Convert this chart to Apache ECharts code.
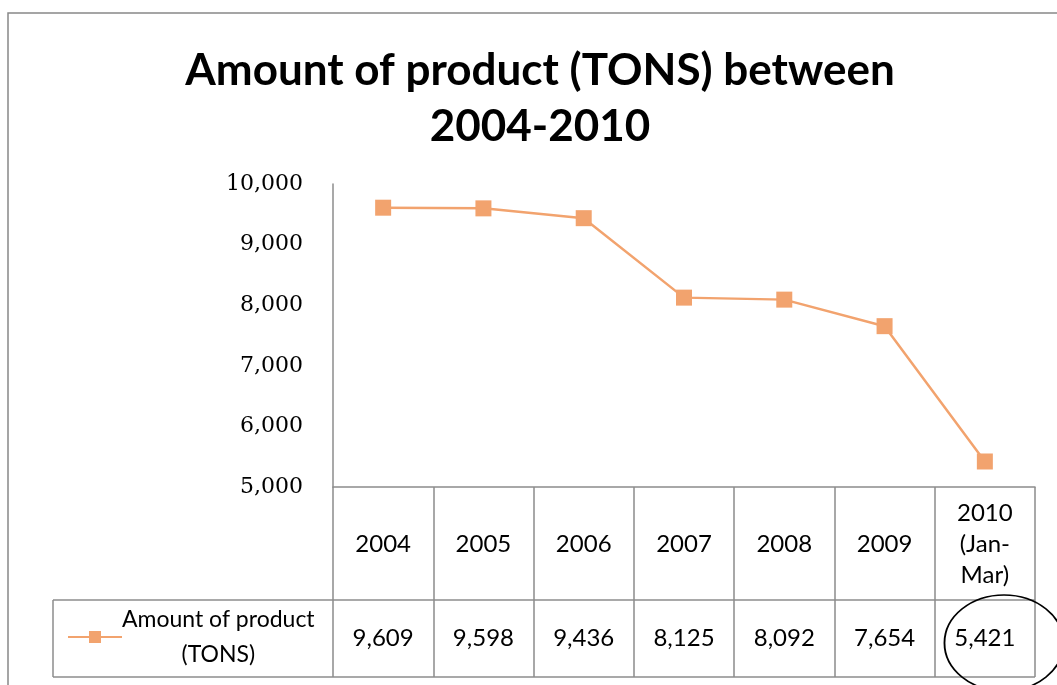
<!DOCTYPE html>
<html>
<head>
<meta charset="utf-8">
<script src="https://cdn.jsdelivr.net/npm/echarts@6/dist/echarts.min.js"></script>
<style>
  html, body { margin: 0; padding: 0; background: #fff; }
  #main { width: 1057px; height: 685px; }
</style>
</head>
<body>
<div id="main"></div>
<script>
// data
const seriesName = 'Amount of product (TONS)';
const years = ['2004', '2005', '2006', '2007', '2008', '2009', '2010\n(Jan-\nMar)'];
const tons = [9609, 9598, 9436, 8125, 8092, 7654, 5421];
const yTicks = { min: 5000, max: 10000, step: 1000 };

const lineColor = '#F2A36E';
const gridColor = '#8c8c8c';
const fmt = v => v.toLocaleString('en-US');

let myChart = echarts.init(document.getElementById('main'));

let option = {
  animation: false,
  backgroundColor: '#fff',
  title: {
    text: 'Amount of product (TONS) between\n2004-2010',
    left: 535,
    textAlign: 'center',
    top: 38,
    textStyle: {
      fontFamily: 'Lato',
      fontWeight: 'bold',
      fontSize: 44,
      lineHeight: 56,
      color: '#000'
    }
  },
  legend: {
    left: 62,
    top: 603,
    itemWidth: 54,
    itemHeight: 15,
    itemGap: 0,
    selectedMode: false,
    formatter: () => '{a|Amount of product}\n{b|(TONS)}',
    textStyle: {
      padding: [0, 0, 0, -5],
      rich: {
        a: { fontFamily: 'Lato', fontSize: 23, color: '#000', lineHeight: 35 },
        b: { fontFamily: 'Lato', fontSize: 23, color: '#000', lineHeight: 35, align: 'center' }
      }
    }
  },
  grid: { left: 333, right: 22, top: 184, bottom: 198, containLabel: false },
  xAxis: [
    {
      type: 'category',
      data: years,
      boundaryGap: true,
      axisLine: { show: true, lineStyle: { color: gridColor, width: 1.5 } },
      axisTick: { show: true, interval: 0, length: 190, lineStyle: { color: gridColor, width: 1.5 } },
      axisLabel: {
        interval: 0,
        margin: 57,
        verticalAlign: 'middle',
        align: 'center',
        lineHeight: 31,
        fontFamily: 'Lato',
        fontSize: 24,
        color: '#000'
      },
      splitLine: { show: false }
    },
    {
      type: 'category',
      data: years,
      position: 'bottom',
      boundaryGap: true,
      axisLine: { show: false },
      axisTick: { show: false },
      axisLabel: {
        interval: 0,
        margin: 151,
        verticalAlign: 'middle',
        fontFamily: 'Lato',
        fontSize: 24,
        color: '#000',
        formatter: (v, i) => fmt(tons[i])
      }
    }
  ],
  yAxis: {
    type: 'value',
    min: yTicks.min,
    max: yTicks.max,
    interval: yTicks.step,
    axisLine: { show: true, lineStyle: { color: gridColor, width: 1.5 } },
    axisTick: { show: false },
    splitLine: { show: false },
    axisLabel: {
      margin: 30,
      fontFamily: 'DejaVu Serif',
      fontSize: 22,
      color: '#000',
      formatter: v => fmt(v)
    }
  },
  series: [
    {
      name: seriesName,
      type: 'line',
      data: tons,
      symbol: 'rect',
      symbolSize: 16,
      lineStyle: { color: lineColor, width: 2.5 },
      itemStyle: { color: lineColor },
      label: { show: false }
    }
  ],
  graphic: [
    // chart frame
    { type: 'rect', shape: { x: 8, y: 13, width: 1200, height: 800 }, style: { fill: null, stroke: '#888', lineWidth: 1.5 }, silent: true },
    // data table lines under the axis
    { type: 'line', shape: { x1: 53, y1: 600, x2: 1035, y2: 600 }, style: { stroke: gridColor, lineWidth: 1.5 }, silent: true },
    { type: 'line', shape: { x1: 53, y1: 677, x2: 1035, y2: 677 }, style: { stroke: gridColor, lineWidth: 1.5 }, silent: true },
    { type: 'line', shape: { x1: 53, y1: 600, x2: 53, y2: 677 }, style: { stroke: gridColor, lineWidth: 1.5 }, silent: true },
    // hand-drawn circle round the last value
    { type: 'circle', x: 1004, y: 643, scaleX: 1.24, scaleY: 1, shape: { cx: 0, cy: 0, r: 48 }, style: { fill: null, stroke: '#000', lineWidth: 1.5 }, silent: true, z: 10 }
  ]
};

myChart.setOption(option);
</script>
</body>
</html>
